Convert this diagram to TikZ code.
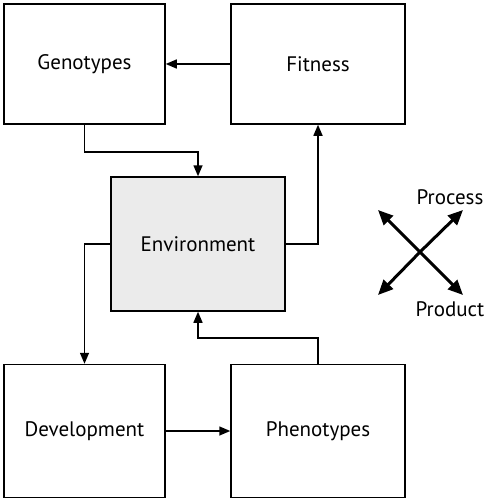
\documentclass[tikz,border=0pt]{standalone}
\usepackage{fontspec}
\setmainfont{PT Sans}
\usetikzlibrary{arrows.meta}
\definecolor{envgray}{HTML}{EBEBEB}
\tikzset{
  box/.style={draw, line width=1.5pt, inner sep=0pt, font=\fontsize{21}{24}\selectfont},
  arr/.style={line width=1.5pt, -{Triangle[length=11pt,width=9pt]}},
  bigarr/.style={line width=3pt, -{Triangle[length=15pt,width=13pt]}},
  lbl/.style={font=\fontsize{21}{24}\selectfont}
}
\begin{document}
\begin{tikzpicture}[x=1pt,y=-1pt]
\useasboundingbox (0,0) rectangle (497,500);
\node[box, minimum width=161pt, minimum height=120pt] (gen) at (84.5,64) {Genotypes};
\node[box, minimum width=174pt, minimum height=120pt] (fit) at (318,64) {Fitness};
\node[box, fill=envgray, minimum width=174pt, minimum height=134pt] (env) at (198,244) {Environment};
\node[box, minimum width=161pt, minimum height=133pt] (dev) at (84.5,431) {Development};
\node[box, minimum width=174pt, minimum height=133pt] (phe) at (318,431) {Phenotypes};
\draw[arr] (fit.west) -- (gen.east);
\draw[arr] (gen.south) -- ++(0,27) -| (env.north);
\draw[arr] (env.west) -| (dev.north);
\draw[arr] (env.east) -| (fit.south);
\draw[arr] (phe.north) -- ++(0,-26) -| (env.south);
\draw[arr] (dev.east) -- (phe.west);
\coordinate (c) at (420,252);
\coordinate (ul) at (378,210);
\coordinate (ur) at (463,210);
\coordinate (ll) at (378,295);
\coordinate (lr) at (463,295);
\draw[bigarr] (c) -- (ul);
\draw[bigarr] (c) -- (ur);
\draw[bigarr] (c) -- (ll);
\draw[bigarr] (c) -- (lr);
\node[lbl] (process) at (450,197) {Process};
\node[lbl] (product) at (450,309) {Product};
\end{tikzpicture}
\end{document}
